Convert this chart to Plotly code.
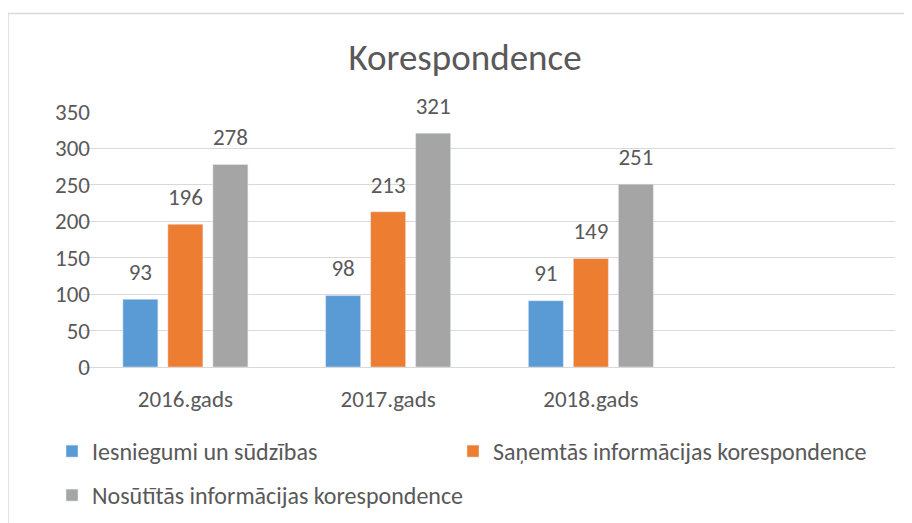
import plotly.graph_objects as go

categories = ["2016.gads", "2017.gads", "2018.gads", " "]
series_names = ["Iesniegumi un sūdzības", "Saņemtās informācijas korespondence",
                "Nosūtītās informācijas korespondence"]
iesniegumi = [93, 98, 91]
sanemtas = [196, 213, 149]
nosutitas = [278, 321, 251]
colors = ["#5B9BD5", "#ED7D31", "#A5A5A5"]
y_ticks = [0, 50, 100, 150, 200, 250, 300, 350]

FONT = "Carlito, Open Sans, sans-serif"
TXT = "#595959"
FS = 23
LFS = 24

fig = go.Figure()
legends = ["legend", "legend2", "legend3"]
for i, (name, vals) in enumerate(zip(series_names, [iesniegumi, sanemtas, nosutitas])):
    fig.add_trace(go.Bar(
        x=categories[:3], y=vals, name=name, marker_color=colors[i],
        offsetgroup=str(i), showlegend=True, legend=legends[i],
    ))
for i, vals in enumerate([iesniegumi, sanemtas, nosutitas]):
    fig.add_trace(go.Scatter(
        x=categories[:3], y=vals, mode="text+markers", text=[str(v) for v in vals],
        textposition="top center", offsetgroup=str(i),
        marker=dict(size=20, opacity=0), textfont=dict(size=FS, color=TXT, family=FONT),
        showlegend=False, hoverinfo="skip", cliponaxis=False,
    ))

leg_common = dict(orientation="h", xref="container", xanchor="left", yref="container",
                  yanchor="top", font=dict(size=LFS, color=TXT, family=FONT), itemwidth=30,
                  bgcolor="rgba(0,0,0,0)")
fig.update_layout(
    width=912, height=523,
    margin=dict(l=76, r=25, t=104, b=164),
    paper_bgcolor="white", plot_bgcolor="white",
    font=dict(family=FONT, size=FS, color=TXT),
    barmode="group", bargap=0.334, bargroupgap=0.222,
    scattermode="group", scattergap=0.334,
    title=dict(text="Korespondence", x=457 / 912, xref="container", xanchor="center",
               y=1 - 49 / 523, yref="container", yanchor="middle",
               font=dict(size=37, color=TXT, family=FONT)),
    legend=dict(x=44 / 912, y=1 - 421 / 523, **leg_common),
    legend2=dict(x=445 / 912, y=1 - 421 / 523, **leg_common),
    legend3=dict(x=44 / 912, y=1 - 465 / 523, **leg_common),
    showlegend=True,
)
fig.update_xaxes(type="category", categoryorder="array", categoryarray=categories,
                 range=[-0.5, 3.5], showgrid=False, showline=True, linecolor="#D9D9D9",
                 linewidth=1, ticks="", ticklabelstandoff=11,
                 tickvals=categories[:3], ticktext=categories[:3])
fig.update_yaxes(range=[0, 350], tickvals=y_ticks, showgrid=True, gridcolor="#D9D9D9",
                 gridwidth=1, zeroline=False, showline=False, ticks="", ticklabelstandoff=-7)

# chart frame
fig.add_shape(type="rect", xref="paper", yref="paper",
              x0=(0 - 76) / 811, x1=(930 - 76) / 811,
              y0=(359 - 560) / 255, y1=(359 - 5.5) / 255,
              line=dict(color="#D9D9D9", width=1.5), fillcolor="rgba(0,0,0,0)", layer="below")

fig.write_html("out.html")
